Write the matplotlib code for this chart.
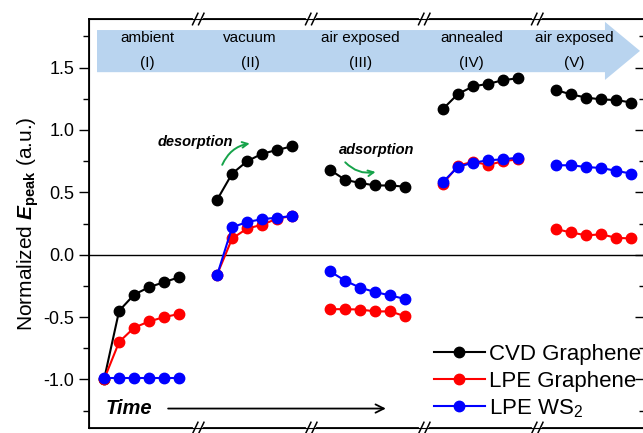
import numpy as np
import matplotlib
matplotlib.use("Agg")
import matplotlib.pyplot as plt
from matplotlib.patches import Polygon
from matplotlib.ticker import MultipleLocator, FormatStrFormatter
import matplotlib.transforms as mtransforms

plt.rcParams['font.family'] = ['Liberation Sans', 'DejaVu Sans']
plt.rcParams['mathtext.fontset'] = 'custom'
plt.rcParams['mathtext.rm'] = 'Liberation Sans'
plt.rcParams['mathtext.it'] = 'Liberation Sans:italic'
plt.rcParams['mathtext.bf'] = 'Liberation Sans:bold'
plt.rcParams['mathtext.bfit'] = 'Liberation Sans:bold:italic'

# stages and their labels
stages = ["ambient", "vacuum", "air exposed", "annealed", "air exposed"]
stage_ids = ["(I)", "(II)", "(III)", "(IV)", "(V)"]
stage_label_x = [2.9, 9.7, 17.0, 24.4, 31.2]
seg_gap = 7.5
n_pts = 6

# normalized E_peak, one list per stage
cvd = [
    [-1.0, -0.45, -0.32, -0.26, -0.22, -0.18],
    [0.44, 0.65, 0.75, 0.81, 0.84, 0.87],
    [0.68, 0.60, 0.575, 0.555, 0.555, 0.545],
    [1.17, 1.29, 1.35, 1.37, 1.40, 1.415],
    [1.32, 1.285, 1.26, 1.245, 1.24, 1.22],
]
lpe_gr = [
    [-1.0, -0.70, -0.585, -0.535, -0.50, -0.475],
    [-0.16, 0.13, 0.21, 0.24, 0.29, 0.31],
    [-0.437, -0.437, -0.44, -0.455, -0.455, -0.495],
    [0.57, 0.715, 0.745, 0.72, 0.75, 0.765],
    [0.205, 0.178, 0.155, 0.163, 0.135, 0.13],
]
lpe_ws2 = [
    [-0.99, -0.99, -0.99, -0.99, -0.99, -0.99],
    [-0.165, 0.22, 0.262, 0.285, 0.297, 0.31],
    [-0.134, -0.209, -0.265, -0.30, -0.327, -0.356],
    [0.585, 0.705, 0.738, 0.757, 0.765, 0.778],
    [0.717, 0.717, 0.703, 0.695, 0.672, 0.65],
]

series = [
    ("CVD Graphene", cvd, "black"),
    ("LPE Graphene", lpe_gr, "#ff0000"),
    ("LPE WS$_2$", lpe_ws2, "#0000ff"),
]

fig = plt.figure(figsize=(6.43, 4.33), dpi=100)
ax = fig.add_axes([89 / 643, 5 / 433, 556 / 643, 409 / 433])

for label, data, color in series:
    for k, vals in enumerate(data):
        x = k * seg_gap + np.arange(n_pts)
        ax.plot(x, vals, '-o', color=color, lw=1.5, ms=7.5,
                label=label if k == 0 else None, zorder=3)

ax.axhline(0, color='black', lw=1.0, zorder=1)

ax.set_xlim(-1.0, 35.9)
ax.set_ylim(-1.39, 1.89)
ax.set_xticks([])
ax.yaxis.set_major_locator(MultipleLocator(0.5))
ax.yaxis.set_minor_locator(MultipleLocator(0.25))
ax.yaxis.set_major_formatter(FormatStrFormatter('%.1f'))
ax.tick_params(axis='y', which='major', length=7, width=1, labelsize=13, direction='out')
ax.tick_params(axis='y', which='minor', length=4, width=1, direction='out')
for s in ax.spines.values():
    s.set_linewidth(1.3)

ax2 = ax.twinx()
ax2.set_ylim(ax.get_ylim())
ax2.yaxis.set_major_locator(MultipleLocator(0.5))
ax2.yaxis.set_minor_locator(MultipleLocator(0.25))
ax2.tick_params(axis='y', which='major', length=7, width=1, direction='in', labelright=False)
ax2.tick_params(axis='y', which='minor', length=4, width=1, direction='in')

ax.set_ylabel(r"Normalized $\mathbfit{E}_{\mathbf{peak}}$ (a.u.)", fontsize=15, labelpad=2)

# header arrow banner (axes coords)
banner = Polygon([[0.0144, 0.870], [0.928, 0.870], [0.928, 0.851], [0.991, 0.922],
                  [0.928, 0.993], [0.928, 0.973], [0.0144, 0.973]],
                 closed=True, transform=ax.transAxes, facecolor='#b9d4ef',
                 edgecolor='none', zorder=0, clip_on=False)
ax.add_patch(banner)
for name, sid, xs in zip(stages, stage_ids, stage_label_x):
    ax.text(xs, 1.737, name, ha='center', va='center', fontsize=11)
    ax.text(xs, 1.535, sid, ha='center', va='center', fontsize=11)

# axis break marks
trans = mtransforms.blended_transform_factory(ax.transData, ax.transAxes)
for k in range(4):
    xb = k * seg_gap + (n_pts - 1) + (seg_gap - n_pts + 1) / 2
    for yb in (0.0, 1.0):
        ax.plot([xb - 0.2, xb + 0.2], [yb, yb], color='white', lw=3,
                transform=trans, clip_on=False, zorder=5)
        for off in (-0.2, 0.2):
            ax.plot([xb + off - 0.18, xb + off + 0.18], [yb - 0.014, yb + 0.014],
                    color='black', lw=1.1, transform=trans, clip_on=False, zorder=6)

# annotations
ax.text(6.05, 0.90, "desorption", fontsize=10.5, fontweight='bold', style='italic',
        ha='center', va='center')
ax.annotate("", xy=(9.85, 0.895), xytext=(7.77, 0.70),
            arrowprops=dict(arrowstyle='->', color='#16a34a', lw=1.4,
                            connectionstyle='arc3,rad=-0.3'))
ax.text(18.1, 0.836, "adsorption", fontsize=10.5, fontweight='bold', style='italic',
        ha='center', va='center')
ax.annotate("", xy=(18.2, 0.668), xytext=(15.88, 0.757),
            arrowprops=dict(arrowstyle='->', color='#16a34a', lw=1.4,
                            connectionstyle='arc3,rad=0.3'))

ax.text(0.1, -1.234, "Time", fontsize=14.5, fontweight='bold', style='italic',
        ha='left', va='center')
ax.annotate("", xy=(18.7, -1.234), xytext=(4.25, -1.234),
            arrowprops=dict(arrowstyle='->', color='black', lw=1.3,
                            shrinkA=0, shrinkB=0, mutation_scale=15))

ax.legend(loc='upper left', bbox_to_anchor=(0.62, 0.205), frameon=False, fontsize=16,
          handlelength=2.3, handletextpad=0.2, labelspacing=0.25,
          borderpad=0, borderaxespad=0)

fig.savefig("out.png", dpi=100)
